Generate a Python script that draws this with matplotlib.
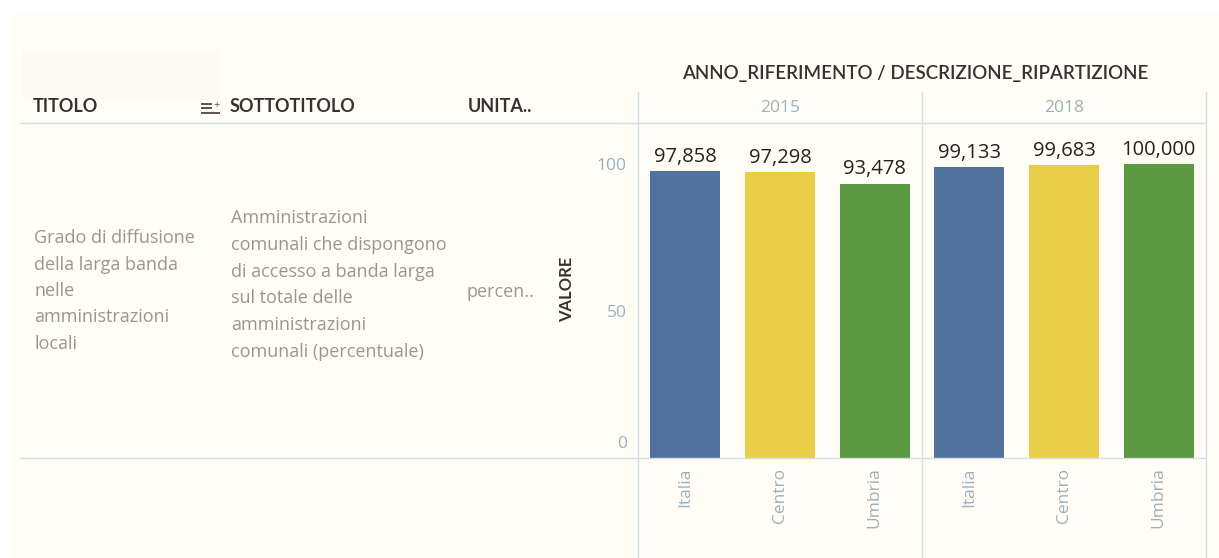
import matplotlib.pyplot as plt
import numpy as np
from matplotlib.lines import Line2D
from matplotlib.patches import Rectangle
from matplotlib.transforms import ScaledTranslation

# dati
anni = ["2015", "2018"]
ripartizioni = ["Italia", "Centro", "Umbria"]
valori_2015 = [97.858, 97.298, 93.478]
valori_2018 = [99.133, 99.683, 100.000]
colori = ["#51719f", "#e9cf47", "#5b9a42"]

titolo_righe = ["Grado di diffusione", "della larga banda", "nelle",
                "amministrazioni", "locali"]
sottotitolo_righe = ["Amministrazioni", "comunali che dispongono",
                     "di accesso a banda larga", "sul totale delle",
                     "amministrazioni", "comunali (percentuale)"]
unita = "percen.."

W, H = 1219, 558
plt.rcParams['font.family'] = ['Open Sans', 'DejaVu Sans']

fig = plt.figure(figsize=(W / 100, H / 100), dpi=100, facecolor="white")

def fx(px):
    return px / W

def fy(py):
    return 1 - py / H

# sfondo crema
fig.patches.append(Rectangle((fx(11), 0), 1 - fx(11), fy(14), transform=fig.transFigure,
                             facecolor="#fffdf5", edgecolor="none", zorder=-10))
fig.patches.append(Rectangle((fx(22), fy(100)), fx(220) - fx(22), fy(50) - fy(100),
                             transform=fig.transFigure, facecolor="#fcfaf3",
                             edgecolor="none", zorder=-9))

col_linea = "#d3dfe7"
col_asse = "#9db0bb"
col_testo = "#969696"
col_scuro = "#333333"
testata = dict(family=["Lato", "DejaVu Sans"], fontsize=13, fontweight="bold", color=col_scuro, va="center")

# linee della tabella
fig.lines.append(Line2D([fx(20), fx(1206)], [fy(123), fy(123)], transform=fig.transFigure,
                        color=col_linea, lw=1))
fig.lines.append(Line2D([fx(20), fx(1206)], [fy(458), fy(458)], transform=fig.transFigure,
                        color=col_linea, lw=1))
for xv in [638, 922, 1206]:
    fig.lines.append(Line2D([fx(xv), fx(xv)], [fy(92), 0], transform=fig.transFigure,
                            color=col_linea, lw=1))

# intestazioni
fig.text(fx(33), fy(107), "TITOLO", **testata)
fig.text(fx(230), fy(107), "SOTTOTITOLO", **testata)
fig.text(fx(468), fy(107), "UNITA..", **testata)
# icona ordinamento
for yy, x1, x2 in [(103.5, 202, 211), (108, 202, 211), (113, 202, 219)]:
    fig.lines.append(Line2D([fx(x1), fx(x2)], [fy(yy), fy(yy)], transform=fig.transFigure,
                            color="#555555", lw=1.4))
fig.text(fx(216.5), fy(105), "+", fontsize=8, color="#555555", ha="center", va="center")

fig.text(fx(915), fy(73), "ANNO_RIFERIMENTO / DESCRIZIONE_RIPARTIZIONE", fontsize=13.5,
         family=["Lato", "DejaVu Sans"], fontweight="semibold",
         color=col_scuro, ha="center", va="center")

for i, riga in enumerate(titolo_righe):
    fig.text(fx(34), fy(238 + i * 26.5), riga, fontsize=13, color=col_testo, va="center")
for i, riga in enumerate(sottotitolo_righe):
    fig.text(fx(231), fy(218 + i * 26.8), riga, fontsize=13, color=col_testo, va="center")
fig.text(fx(467), fy(292), unita, fontsize=13, color=col_testo, va="center")
fig.text(fx(567), fy(289), "VALORE", family=["Lato", "DejaVu Sans"], fontsize=12,
         fontweight="bold", color=col_scuro, rotation=90, ha="center", va="center")

# grafico a barre
ax = fig.add_axes([fx(638), fy(458), fx(1206) - fx(638), fy(123) - fy(458)])
ax.set_facecolor("none")
valori = valori_2015 + valori_2018
etichette = ripartizioni * len(anni)
x = np.arange(len(valori))
barre = ax.bar(x, valori, width=0.74, color=colori * len(anni), zorder=2)
for b, v in zip(barre, valori):
    testo = f"{v:,.3f}".replace(",", "X").replace(".", ",").replace("X", ".")
    ax.annotate(testo, (b.get_x() + b.get_width() / 2, v), xytext=(0, 3),
                textcoords="offset points", ha="center", va="bottom",
                fontsize=14.5, color="#222222")

ax.set_xlim(-0.5, len(valori) - 0.5)
ax.set_ylim(0, 114.1)
for s in ax.spines.values():
    s.set_visible(False)
ax.set_yticks([0, 50, 100])
ax.set_yticklabels(["0", "50", "100"])
ax.tick_params(axis="y", length=0, pad=8, labelsize=12.5, labelcolor=col_asse)
zero = ax.get_yticklabels()[0]
zero.set_va("bottom")
zero.set_transform(zero.get_transform() + ScaledTranslation(0, 4 / 72, fig.dpi_scale_trans))
ax.set_xticks(x)
ax.set_xticklabels(etichette, rotation=90, va="top", ha="center")
ax.tick_params(axis="x", length=0, pad=7, labelsize=12.5, labelcolor=col_asse)

for j, anno in enumerate(anni):
    ax.text(j * 3 + 1, 1.045, anno, transform=ax.get_xaxis_transform(), ha="center",
            va="center", fontsize=12.5, color=col_asse)

fig.savefig("out.png", dpi=100, facecolor=fig.get_facecolor())
